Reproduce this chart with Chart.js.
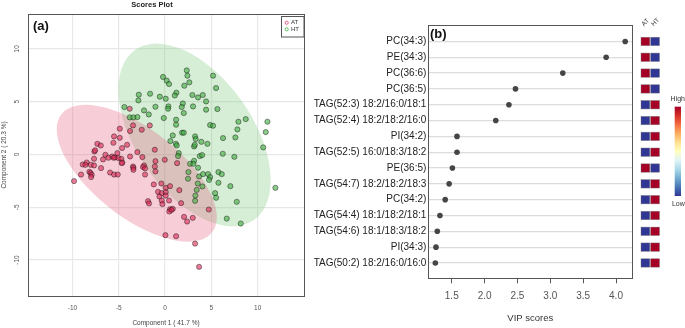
<!DOCTYPE html>
<html>
<head>
<meta charset="utf-8">
<script src="https://cdn.jsdelivr.net/npm/chart.js@4.4.1/dist/chart.umd.min.js"></script>
<style>
  html, body { margin: 0; padding: 0; background: #fff; }
  #wrap { position: relative; width: 685px; height: 328px; overflow: hidden; }
  #scores { position: absolute; left: 0; top: 0; }
  #vip { position: absolute; left: 305px; top: 0; }
</style>
</head>
<body>
<div id="wrap">
  <canvas id="scores" width="310" height="328" style="width:310px;height:328px"></canvas>
  <canvas id="vip" width="380" height="328" style="width:380px;height:328px"></canvas>
</div>
<script>
const FONT = "'Liberation Sans', Arial, sans-serif";
Chart.defaults.font.family = FONT;

// ---- panel (a): PLS-DA scores ----
const atScores = [
  [-3.82,4.33],[-3.46,2.75],[-2.52,2.34],[-1.65,2.75],[-4.89,2.44],[-3.78,2.22],[-5.51,1.71],[-4.89,1.58],
  [-4.10,0.92],[-5.58,1.11],[-7.31,1.01],[-6.94,0.85],[-7.63,0.28],[-7.55,0.40],[-4.64,0.61],[-5.15,0.13],
  [-5.72,-0.19],[-5.40,-0.28],[-5.55,-0.31],[-5.04,-0.34],[-4.72,-0.41],[-4.61,-0.76],[-6.44,-0.03],[-6.12,-0.31],
  [-3.78,-0.19],[-2.99,0.23],[-2.45,-0.25],[-1.11,0.45],[-1.04,-0.63],[-0.03,-0.50],[-6.70,-0.47],[-7.67,-0.41],
  [-8.46,-0.76],[-8.89,-0.95],[-8.02,-0.98],[-6.91,-1.29],[-3.46,-1.14],[1.30,-0.82],[-2.27,-1.04],
  [-9.83,-2.52],[-9.07,-1.90],[-8.17,-1.64],[-8.05,-1.75],[-7.92,-1.92],[-7.99,-2.14],[-7.67,-1.04],[-8.60,-0.98],
  [-5.94,-1.71],[-5.51,-1.90],[-5.11,-1.90],[-4.68,-0.82],[-3.42,-1.26],[-3.42,-1.45],[-2.38,-1.19],[-2.16,-1.32],
  [-2.16,-1.90],[-1.11,-1.14],[-1.04,-1.61],[-1.22,-2.84],[-0.40,-2.75],[0.07,-3.16],[0.54,-3.00],[-0.76,-3.54],
  [-0.36,-3.66],[-0.61,-3.98],[0.07,-3.57],[0.07,-3.89],[1.54,-3.38],[0.43,-4.36],[-0.36,-4.36],[-0.29,-4.70],
  [-1.84,-4.42],[-1.73,-4.64],[1.73,-4.61],[0.54,-5.18],[0.83,-5.15],[0.46,-5.40],[0.70,-5.25],[4.72,-5.21],
  [2.05,-5.91],[2.38,-6.35],[2.99,-6.00],[0.04,-7.64],[1.19,-7.74],[3.24,-8.44],[3.67,-10.64]
];
const htScores = [
  [2.34,7.96],[2.41,7.46],[-0.22,7.34],[0.18,6.99],[0.43,6.67],[2.62,6.83],[2.08,6.51],[5.18,7.46],[5.51,6.29],
  [-2.84,5.66],[-2.88,5.12],[-1.62,5.75],[-0.57,5.47],[0.07,5.28],[1.22,5.85],[1.05,5.59],[2.95,5.63],[3.56,5.40],
  [4.07,5.63],[4.43,5.02],[1.91,4.83],[1.80,4.49],[0.36,4.55],[0.32,4.33],[-1.04,4.52],[-2.27,4.17],[-1.76,3.79],
  [-4.39,4.49],[-3.81,3.51],[-3.42,3.51],[-2.99,3.54],[2.02,3.92],[3.02,4.55],[4.43,4.24],[5.65,4.30],[-0.14,3.45],
  [1.19,3.29],[1.19,2.82],[4.86,2.79],[5.18,2.72],[7.92,3.10],[8.71,3.35],[11.05,3.10],[10.87,2.12],[7.81,2.37],
  [7.59,1.61],[6.26,1.55],[1.84,2.06],[2.02,2.06],[0.83,1.80],[3.24,1.71],[3.31,1.46],[3.92,1.20],[4.57,1.01],
  [3.13,0.76],[3.21,0.92],[0.57,1.27],[1.16,1.01],[1.26,0.85],[10.6,0.67],[1.48,0.13],[1.40,-0.15],[3.75,-0.15],
  [4.0,-0.06],[6.23,0.07],[7.48,-0.22],[3.13,-0.60],
  [2.70,-0.88],[3.06,-0.88],[3.56,-1.26],[2.52,-1.67],[2.48,-2.30],[3.67,-2.08],[4.10,-1.86],[4.64,-1.86],
  [4.86,-2.14],[4.75,-2.40],[5.76,-1.67],[6.12,-1.86],[5.76,-2.68],[3.53,-2.75],[4.03,-3.03],[3.42,-3.35],
  [3.27,-3.89],[3.24,-4.39],[5.40,-3.66],[5.51,-4.10],[7.05,-3.00],[7.74,-4.48],[11.91,-3.16],[6.66,-6.07],[8.17,-6.54]
];
const scoreTicks = [-10, -5, 0, 5, 10];
// confidence ellipses: centre x, centre y, semi-major, semi-minor, angle (deg)
const ellipseAT = [-3.06, -1.78, 9.89, 4.35, -32.8];
const ellipseHT = [3.18, 1.85, 10.33, 5.97, -47.9];

// ---- panel (b): VIP scores ----
const vipLabels = ['PC(34:3)', 'PE(34:3)', 'PC(36:6)', 'PC(36:5)', 'TAG(52:3) 18:2/16:0/18:1',
  'TAG(52:4) 18:2/18:2/16:0', 'PI(34:2)', 'TAG(52:5) 16:0/18:3/18:2', 'PE(36:5)', 'TAG(54:7) 18:2/18:2/18:3',
  'PC(34:2)', 'TAG(54:4) 18:1/18:2/18:1', 'TAG(54:6) 18:1/18:3/18:2', 'PI(34:3)', 'TAG(50:2) 18:2/16:0/16:0'];
const vipScores = [4.14, 3.85, 3.19, 2.47, 2.37, 2.17, 1.58, 1.58, 1.51, 1.46, 1.40, 1.32, 1.28, 1.26, 1.25];
const vipTicks = [1.5, 2.0, 2.5, 3.0, 3.5, 4.0];
const groups = ['AT', 'HT'];
const levelAT = [1, 1, 1, 1, 0, 0, 0, 0, 1, 0, 0, 0, 0, 0, 0];  // 1 = high, 0 = low
const levelHT = [0, 0, 0, 0, 1, 1, 1, 1, 0, 1, 1, 1, 1, 1, 1];

const HIGH = '#a50026', LOW = '#313695';
const rdYlBu = ['#a50026', '#d73027', '#f46d43', '#fdae61', '#fee090', '#ffffbf',
  '#e0f3f8', '#abd9e9', '#74add1', '#4575b4', '#313695'];

function frame(color) {
  return {
    id: 'frame',
    afterDraw(chart) {
      const {ctx, chartArea: a} = chart;
      ctx.save();
      ctx.strokeStyle = color;
      ctx.lineWidth = 1;
      ctx.strokeRect(Math.round(a.left) + 0.5, Math.round(a.top) + 0.5,
        Math.round(a.right - a.left), Math.round(a.bottom - a.top));
      ctx.restore();
    }
  };
}

const ellipses = {
  id: 'ellipses',
  beforeDatasetsDraw(chart) {
    const {ctx, chartArea: a, scales: {x, y}} = chart;
    const draw = (e, fill) => {
      const sx = x.getPixelForValue(1) - x.getPixelForValue(0);
      const sy = y.getPixelForValue(0) - y.getPixelForValue(1);
      ctx.save();
      ctx.beginPath();
      ctx.rect(a.left, a.top, a.right - a.left, a.bottom - a.top);
      ctx.clip();
      ctx.save();
      ctx.translate(x.getPixelForValue(e[0]), y.getPixelForValue(e[1]));
      ctx.scale(sx, -sy);
      ctx.rotate(e[4] * Math.PI / 180);
      ctx.beginPath();
      ctx.ellipse(0, 0, e[2], e[3], 0, 0, Math.PI * 2);
      ctx.restore();
      ctx.fillStyle = fill;
      ctx.fill();
      ctx.restore();
    };
    draw(ellipseHT, 'rgba(118,195,118,0.3)');
    draw(ellipseAT, 'rgba(228,88,122,0.3)');
  }
};

const scoresExtras = {
  id: 'scoresExtras',
  afterDraw(chart) {
    const {ctx} = chart;
    ctx.save();
    ctx.fillStyle = '#111';
    ctx.font = 'bold 13px ' + FONT;
    ctx.textBaseline = 'middle';
    ctx.fillText('(a)', 33, 26.5);
    // legend box
    ctx.strokeStyle = '#555';
    ctx.lineWidth = 1;
    ctx.fillStyle = '#fff';
    ctx.fillRect(281.5, 16.5, 22.5, 20.5);
    ctx.strokeRect(281.5, 16.5, 22.5, 20.5);
    const items = [['AT', '#e0406a', 22.7], ['HT', '#3fae3f', 29.3]];
    ctx.font = '6px ' + FONT;
    items.forEach(([t, c, yy]) => {
      ctx.beginPath();
      ctx.arc(286.7, yy, 1.6, 0, Math.PI * 2);
      ctx.strokeStyle = c;
      ctx.lineWidth = 0.8;
      ctx.stroke();
      ctx.fillStyle = '#333';
      ctx.fillText(t, 291, yy);
    });
    ctx.restore();
  }
};

new Chart(document.getElementById('scores'), {
  type: 'scatter',
  data: {
    datasets: [
      { label: 'AT', data: atScores.map(p => ({x: p[0], y: p[1]})),
        backgroundColor: 'rgba(220,40,85,0.6)', borderColor: 'rgba(20,20,20,0.75)', borderWidth: 0.6, pointRadius: 2.6 },
      { label: 'HT', data: htScores.map(p => ({x: p[0], y: p[1]})),
        backgroundColor: 'rgba(60,170,60,0.6)', borderColor: 'rgba(20,20,20,0.75)', borderWidth: 0.6, pointRadius: 2.6 }
    ]
  },
  options: {
    responsive: false,
    animation: false,
    layout: { padding: { left: 0, right: 6, top: 0, bottom: 0 } },
    plugins: {
      legend: { display: false },
      tooltip: { enabled: false },
      title: { display: true, text: 'Scores Plot', color: '#222',
        font: { size: 7.5, weight: 'bold' }, padding: { top: 0, bottom: 5 } }
    },
    scales: {
      x: {
        type: 'linear', min: -14.8, max: 15.0,
        afterBuildTicks: s => { s.ticks = scoreTicks.map(v => ({value: v})); },
        afterFit: s => { s.height = 32; },
        grid: { color: '#e8e8e8', lineWidth: 1.2, drawTicks: false },
        border: { display: false },
        ticks: { color: '#555', font: { size: 6.5 }, padding: 8 },
        title: { display: true, text: 'Component 1 ( 41.7 %)', color: '#444',
          font: { size: 6.5 }, padding: { top: 0, bottom: 1 } }
      },
      y: {
        type: 'linear', min: -13.4, max: 13.3,
        afterBuildTicks: s => { s.ticks = scoreTicks.map(v => ({value: v})); },
        afterFit: s => { s.width = 28; },
        grid: { color: '#e8e8e8', lineWidth: 1.2, drawTicks: false },
        border: { display: false },
        ticks: { color: '#555', font: { size: 6.5 }, padding: 6, minRotation: 90, maxRotation: 90, crossAlign: 'center' },
        title: { display: true, text: 'Component 2 ( 20.3 %)', color: '#444',
          font: { size: 6.5 }, padding: { top: 0, bottom: 0 } }
      }
    }
  },
  plugins: [ellipses, frame('#555'), scoresExtras]
});

const vipExtras = {
  id: 'vipExtras',
  afterDraw(chart) {
    const {ctx, scales: {y}} = chart;
    ctx.save();
    ctx.fillStyle = '#111';
    ctx.font = 'bold 13px ' + FONT;
    ctx.textBaseline = 'middle';
    ctx.fillText('(b)', 125, 34.5);

    // group heat squares
    const colX = [336, 345.7];
    const w = 8.8, h = 8.4;
    vipLabels.forEach((_, i) => {
      const cy = y.getPixelForValue(i);
      [levelAT[i], levelHT[i]].forEach((lv, j) => {
        ctx.fillStyle = lv ? HIGH : LOW;
        ctx.fillRect(colX[j], cy - h / 2, w, h);
        ctx.strokeStyle = 'rgba(120,120,120,0.7)';
        ctx.lineWidth = 0.6;
        ctx.strokeRect(colX[j], cy - h / 2, w, h);
      });
    });
    // column headers
    ctx.fillStyle = '#333';
    ctx.font = '6.5px ' + FONT;
    ctx.textBaseline = 'alphabetic';
    groups.forEach((g, j) => {
      ctx.save();
      ctx.translate(colX[j] + 3, 26.5);
      ctx.rotate(-Math.PI / 4);
      ctx.fillText(g, 0, 0);
      ctx.restore();
    });
    // colour bar
    const bx = 369.7, by = 106.7, bw = 6.3, bh = 89.3;
    const grad = ctx.createLinearGradient(0, by, 0, by + bh);
    rdYlBu.forEach((c, k) => grad.addColorStop(k / (rdYlBu.length - 1), c));
    ctx.fillStyle = grad;
    ctx.fillRect(bx, by, bw, bh);
    ctx.fillStyle = '#333';
    ctx.font = '7px ' + FONT;
    ctx.textAlign = 'center';
    ctx.textBaseline = 'middle';
    ctx.fillText('High', 372.8, 99);
    ctx.fillText('Low', 373.3, 204.3);
    ctx.restore();
  }
};

new Chart(document.getElementById('vip'), {
  type: 'scatter',
  data: {
    datasets: [{
      label: 'VIP',
      data: vipScores.map((v, i) => ({x: v, y: i})),
      backgroundColor: '#454545', borderWidth: 0, pointRadius: 2.8
    }]
  },
  options: {
    responsive: false,
    animation: false,
    layout: { padding: { left: 0, right: 52.7, top: 25, bottom: 0 } },
    plugins: { legend: { display: false }, tooltip: { enabled: false } },
    scales: {
      x: {
        type: 'linear', min: 1.143, max: 4.248,
        afterBuildTicks: s => { s.ticks = vipTicks.map(v => ({value: v})); },
        afterFit: s => { s.height = 49.7; },
        grid: { drawOnChartArea: false, drawTicks: true, tickLength: 5, color: '#555' },
        border: { display: false },
        ticks: { color: '#555', font: { size: 10 }, padding: 7, callback: v => Number(v).toFixed(1) },
        title: { display: true, text: 'VIP scores', color: '#333', font: { size: 9.5 }, padding: { top: 0, bottom: 3.6 } }
      },
      y: {
        type: 'linear', reverse: true, min: -1.04, max: 14.97,
        afterBuildTicks: s => { s.ticks = vipLabels.map((_, i) => ({value: i})); },
        afterFit: s => { s.width = 123.3; },
        grid: { color: '#dcdcdc', lineWidth: 1.2, drawTicks: false },
        border: { display: false },
        ticks: { color: '#222', font: { size: 10 }, padding: 2, callback: v => vipLabels[v] }
      }
    }
  },
  plugins: [frame('#555'), vipExtras]
});
</script>
</body>
</html>
